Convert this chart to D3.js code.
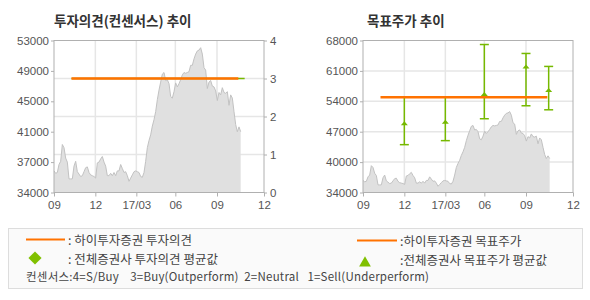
<!DOCTYPE html>
<html>
<head>
<meta charset="utf-8">
<script src="https://cdn.jsdelivr.net/npm/d3@7"></script>
<style>
  body { margin: 0; background: #fff; }
  text { font-family: "Liberation Sans", Arial, sans-serif; }
  .kr { font-family: "Noto Sans CJK KR", "Noto Sans", sans-serif; }
</style>
</head>
<body>
<div id="chart"></div>
<script>
// x axis ticks (positions in sample index, ~2.4 sessions per sample)
const xTickPos = [0, 24.8, 49.4, 72.8, 97.8, 126];
const xTickLabels = ["09", "12", "17/03", "06", "09", "12"];

// closing price, one sample every ~2.4 trading days from 2016-09
const price = [
    36700, 36400, 36500, 37500, 37900, 40000, 39600, 38300, 37800, 35700,
    35700, 35700, 37300, 37900, 36600, 36300, 36000, 36100, 36600, 37100,
    37200, 36500, 36200, 36100, 36000, 35800, 37700, 37800, 38200, 38500,
    37800, 37300, 36100, 36100, 36400, 36100, 36500, 36100, 36700, 36700,
    37500, 37000, 36500, 36600, 36100, 35400, 35800, 36200, 36600, 36700,
    36600, 36500, 36000, 35900, 36500, 37900, 39600, 40500, 41200, 42300,
    43100, 44100, 45600, 46800, 47800, 48800, 49000, 48000, 48100, 47600,
    46000, 45800, 46600, 47700, 47200, 47600, 48100, 48700, 49000, 48900,
    49000, 49100, 49900, 49900, 50700, 51300, 51700, 51800, 52100, 51300,
    49600, 49300, 47000, 47800, 48000, 47300, 47200, 46700, 45500, 46500,
    46200, 47100, 46500, 46400, 46600, 44900, 46200, 45800, 44100, 42500,
    41600, 42200, 41600
];

// left chart: price axis (labels) and opinion axis
const priceDomainL = [34000, 53000];
const priceLabelsL = ["34000", "37000", "41000", "45000", "49000", "53000"];
const opinionDomain = [0, 4];
const opinionTicks = [0, 1, 2, 3, 4];

// 하이투자증권 opinion and consensus average opinion
const hiOpinion = { start: 10.5, end: 110.6, value: 3 };
const avgOpinion = { start: 10.5, end: 114.4, value: 3 };

// right chart: target price
const priceDomainR = [34000, 68000];
const priceLabelsR = ["34000", "40000", "47000", "54000", "61000", "68000"];
const hiTarget = { start: 10.5, end: 110.6, value: 55300 };
const tpPos = [24.8, 49.4, 72.8, 97.8, 111.4];
const tpHigh = [55300, 55300, 67100, 65100, 62200];
const tpAvg = [49400, 49700, 55900, 62100, 56800];
const tpLow = [44700, 45600, 50500, 53400, 52500];

const W = 590, H = 300;
const ORANGE = "#ff7200", GREEN = "#76b900", GRID = "#e6e6e6", FRAME = "#b0b0b0", LABEL = "#555";

const svg = d3.select("#chart").append("svg")
    .attr("width", W).attr("height", H);

function panel(left, title) {
    const plot = { x0: left, x1: left + 210, y0: 40.5, y1: 192.5 };
    const g = svg.append("g");
    const x = d3.scaleLinear().domain([0, 126]).range([plot.x0, plot.x1]);

    g.append("text").attr("class", "kr")
        .attr("x", plot.x0 + (left > 300 ? 4 : 0)).attr("y", 26)
        .attr("font-size", 13.5).attr("font-weight", "bold").attr("fill", "#333")
        .text(title);

    // vertical grid
    g.selectAll(".vgrid").data(xTickPos.slice(1, -1)).enter().append("line")
        .attr("x1", d => x(d)).attr("x2", d => x(d))
        .attr("y1", plot.y0).attr("y2", plot.y1)
        .attr("stroke", GRID).attr("stroke-width", 1.5);

    // bottom axis
    const xAxis = d3.axisBottom(x).tickValues(xTickPos)
        .tickFormat((d, i) => xTickLabels[i]).tickSize(4).tickSizeOuter(0);
    const ax = g.append("g").attr("transform", `translate(0,${plot.y1})`).call(xAxis);
    ax.select(".domain").remove();
    ax.selectAll("line").attr("stroke", FRAME);
    ax.selectAll("text").attr("fill", LABEL).attr("font-size", 11.5).attr("dy", "0.85em");
    return { g, x, plot };
}

function drawPrice(p, y) {
    const area = d3.area().x((d, i) => p.x(i)).y0(p.plot.y1).y1(d => y(d));
    const line = d3.line().x((d, i) => p.x(i)).y(d => y(d));
    p.g.append("path").datum(price).attr("d", area).attr("fill", "#e0e0e0");
    p.g.append("path").datum(price).attr("d", line)
        .attr("fill", "none").attr("stroke", "#c2c2c2").attr("stroke-width", 1);
}

function frame(p) {
    p.g.append("rect")
        .attr("x", p.plot.x0).attr("y", p.plot.y0)
        .attr("width", p.plot.x1 - p.plot.x0).attr("height", p.plot.y1 - p.plot.y0)
        .attr("fill", "none").attr("stroke", FRAME);
}

function styleAxis(a) {
    a.select(".domain").remove();
    a.selectAll("line").attr("stroke", FRAME);
    a.selectAll("text").attr("fill", LABEL).attr("font-size", 11.5);
}

// ---------- left panel ----------
const L = panel(54, "투자의견(컨센서스) 추이");
const yPriceL = d3.scaleLinear().domain(priceDomainL).range([L.plot.y1, L.plot.y0]);
const yOp = d3.scaleLinear().domain(opinionDomain).range([L.plot.y1, L.plot.y0]);

L.g.selectAll(".hgrid").data(opinionTicks.slice(1, -1)).enter().append("line")
    .attr("x1", L.plot.x0).attr("x2", L.plot.x1)
    .attr("y1", d => yOp(d)).attr("y2", d => yOp(d))
    .attr("stroke", GRID).attr("stroke-width", 1.5);

drawPrice(L, yPriceL);
frame(L);

const stepL = (priceDomainL[1] - priceDomainL[0]) / 5;
const leftAx = L.g.append("g").attr("transform", `translate(${L.plot.x0},0)`)
    .call(d3.axisLeft(yPriceL).tickValues(d3.range(6).map(i => priceDomainL[0] + i * stepL))
        .tickFormat((d, i) => priceLabelsL[i]).tickSize(3).tickPadding(2));
styleAxis(leftAx);

const rightAx = L.g.append("g").attr("transform", `translate(${L.plot.x1},0)`)
    .call(d3.axisRight(yOp).tickValues(opinionTicks).tickFormat(d3.format("d")).tickSize(3).tickPadding(3));
styleAxis(rightAx);

L.g.append("line")
    .attr("x1", L.x(avgOpinion.start)).attr("x2", L.x(avgOpinion.end))
    .attr("y1", yOp(avgOpinion.value)).attr("y2", yOp(avgOpinion.value))
    .attr("stroke", GREEN).attr("stroke-width", 1.5);
L.g.append("line")
    .attr("x1", L.x(hiOpinion.start)).attr("x2", L.x(hiOpinion.end))
    .attr("y1", yOp(hiOpinion.value)).attr("y2", yOp(hiOpinion.value))
    .attr("stroke", ORANGE).attr("stroke-width", 2.5);

// ---------- right panel ----------
const R = panel(363, "목표주가 추이");
const yPriceR = d3.scaleLinear().domain(priceDomainR).range([R.plot.y1, R.plot.y0]);
const stepR = (priceDomainR[1] - priceDomainR[0]) / 5;
const ticksR = d3.range(6).map(i => priceDomainR[0] + i * stepR);

R.g.selectAll(".hgrid").data(ticksR.slice(1, -1)).enter().append("line")
    .attr("x1", R.plot.x0).attr("x2", R.plot.x1)
    .attr("y1", d => yPriceR(d)).attr("y2", d => yPriceR(d))
    .attr("stroke", GRID).attr("stroke-width", 1.5);

drawPrice(R, yPriceR);
frame(R);

const leftAxR = R.g.append("g").attr("transform", `translate(${R.plot.x0},0)`)
    .call(d3.axisLeft(yPriceR).tickValues(ticksR)
        .tickFormat((d, i) => priceLabelsR[i]).tickSize(3).tickPadding(2));
styleAxis(leftAxR);

// target price ranges of all brokers
const bars = R.g.selectAll(".tp").data(tpPos).enter().append("g");
bars.append("line")
    .attr("x1", d => R.x(d)).attr("x2", d => R.x(d))
    .attr("y1", (d, i) => yPriceR(tpHigh[i])).attr("y2", (d, i) => yPriceR(tpLow[i]))
    .attr("stroke", GREEN).attr("stroke-width", 1.5);
bars.append("line")
    .attr("x1", d => R.x(d) - 4.5).attr("x2", d => R.x(d) + 4.5)
    .attr("y1", (d, i) => yPriceR(tpHigh[i])).attr("y2", (d, i) => yPriceR(tpHigh[i]))
    .attr("stroke", GREEN).attr("stroke-width", 1.5);
bars.append("line")
    .attr("x1", d => R.x(d) - 4.5).attr("x2", d => R.x(d) + 4.5)
    .attr("y1", (d, i) => yPriceR(tpLow[i])).attr("y2", (d, i) => yPriceR(tpLow[i]))
    .attr("stroke", GREEN).attr("stroke-width", 1.5);
bars.append("path")
    .attr("d", (d, i) => {
        const cx = R.x(d), cy = yPriceR(tpAvg[i]);
        return `M${cx - 3.5},${cy + 1.5}L${cx},${cy - 2.5}L${cx + 3.5},${cy + 1.5}Z`;
    })
    .attr("fill", GREEN);

R.g.append("line")
    .attr("x1", R.x(hiTarget.start)).attr("x2", R.x(hiTarget.end))
    .attr("y1", yPriceR(hiTarget.value)).attr("y2", yPriceR(hiTarget.value))
    .attr("stroke", ORANGE).attr("stroke-width", 2.5);

// ---------- legend ----------
const lg = svg.append("g");
lg.append("rect").attr("x", 8.5).attr("y", 228.5).attr("width", 574).attr("height", 60)
    .attr("fill", "#fafafa").attr("stroke", "#dddddd");

const legendText = (x, y, t, size) => lg.append("text").attr("class", "kr")
    .attr("x", x).attr("y", y).attr("font-size", size || 12.5).attr("fill", "#444")
    .attr("xml:space", "preserve").style("white-space", "pre").text(t);

lg.append("line").attr("x1", 26).attr("x2", 65).attr("y1", 239.5).attr("y2", 239.5)
    .attr("stroke", ORANGE).attr("stroke-width", 2);
legendText(68, 245, ": 하이투자증권 투자의견");
lg.append("path").attr("d", d3.symbol().type(d3.symbolDiamond2).size(110)())
    .attr("transform", "translate(35,258)").attr("fill", "#80c000");
legendText(68, 264, ": 전체증권사 투자의견 평균값");

lg.append("line").attr("x1", 357).attr("x2", 397).attr("y1", 240.5).attr("y2", 240.5)
    .attr("stroke", ORANGE).attr("stroke-width", 2);
legendText(400, 246, ":하이투자증권 목표주가");
lg.append("path").attr("d", d3.symbol().type(d3.symbolTriangle).size(60)())
    .attr("transform", "translate(365,263)").attr("fill", "#80c000");
legendText(400, 265, ":전체증권사 목표주가 평균값");

legendText(26, 281, "컨센서스:4=S/Buy    3=Buy(Outperform)  2=Neutral   1=Sell(Underperform)", 11.5)
    .attr("textLength", 403).attr("lengthAdjust", "spacing");
</script>
</body>
</html>
